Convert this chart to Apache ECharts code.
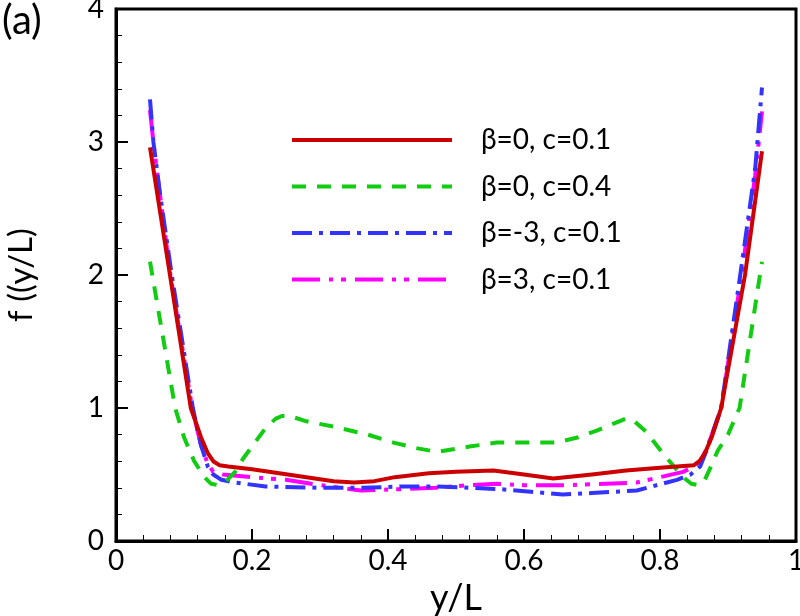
<!DOCTYPE html>
<html><head><meta charset="utf-8">
<script src="https://cdn.jsdelivr.net/npm/echarts@6/dist/echarts.min.js"></script>
<style>html,body{margin:0;padding:0;background:#fff}#c{width:800px;height:616px}</style>
</head><body><div id="c"></div>
<script>
const seriesNames = ['β=0, c=0.1', 'β=0, c=0.4', 'β=-3, c=0.1', 'β=3, c=0.1'];
const xRed = [0.05,0.11,0.125,0.135,0.143,0.152,0.165,0.2,0.24,0.28,0.32,0.35,0.38,0.41,0.46,0.5,0.555,0.6,0.643,0.7,0.75,0.8,0.85,0.858,0.866,0.876,0.89,0.925,0.95];
const yRed = [2.96,1.0,0.78,0.66,0.6,0.57,0.56,0.54,0.51,0.48,0.45,0.44,0.45,0.48,0.51,0.52,0.53,0.5,0.47,0.5,0.53,0.55,0.57,0.6,0.66,0.78,1.0,2.0,2.93];
const xGreen = [0.05,0.087,0.1,0.115,0.13,0.14,0.15,0.16,0.175,0.187,0.22,0.235,0.244,0.255,0.28,0.32,0.37,0.408,0.44,0.472,0.52,0.56,0.6,0.648,0.68,0.707,0.74,0.75,0.76,0.78,0.804,0.834,0.846,0.856,0.865,0.874,0.885,0.9,0.917,0.947,0.95];
const yGreen = [2.1,1.0,0.78,0.6,0.48,0.43,0.42,0.44,0.52,0.62,0.85,0.92,0.94,0.94,0.9,0.86,0.8,0.74,0.7,0.67,0.71,0.74,0.74,0.74,0.78,0.83,0.9,0.92,0.91,0.82,0.66,0.48,0.43,0.42,0.45,0.55,0.68,0.8,1.0,2.0,2.1];
const xBlue = [0.05,0.055,0.065,0.082,0.113,0.125,0.135,0.143,0.155,0.175,0.22,0.3,0.36,0.42,0.47,0.52,0.565,0.61,0.657,0.7,0.766,0.825,0.845,0.859,0.87,0.89,0.918,0.94,0.95];
const yBlue = [3.32,3.0,2.6,2.0,1.0,0.72,0.56,0.5,0.46,0.44,0.41,0.40,0.40,0.41,0.41,0.40,0.39,0.37,0.35,0.36,0.38,0.46,0.5,0.56,0.7,1.0,2.0,2.8,3.41];
const xMag = [0.05,0.056,0.066,0.08,0.112,0.125,0.135,0.143,0.157,0.2,0.25,0.3,0.36,0.42,0.47,0.52,0.56,0.6,0.663,0.72,0.766,0.834,0.85,0.862,0.875,0.89,0.92,0.94,0.95];
const yMag = [3.24,2.95,2.55,2.0,1.0,0.72,0.58,0.52,0.50,0.48,0.46,0.42,0.38,0.39,0.40,0.42,0.43,0.42,0.42,0.43,0.44,0.52,0.56,0.62,0.78,1.0,2.0,2.75,3.23];
const xTicks = ['0','0.2','0.4','0.6','0.8','1'];
const yTicks = ['0','1','2','3','4'];

const pair = (xs, ys) => xs.map((x, i) => [x, ys[i]]);
const FONT = 'Lato';
const colors = ['#cc0000', '#11cc11', '#3333ff', '#ff00ff'];
const dashes = ['solid', [14, 11], [20, 7, 4, 7], [28, 9, 4, 8, 5, 9]];
const datas = [pair(xRed, yRed), pair(xGreen, yGreen), pair(xBlue, yBlue), pair(xMag, yMag)];

const chart = echarts.init(document.getElementById('c'), null, {renderer: 'canvas'});
chart.setOption({
  animation: false,
  backgroundColor: '#fff',
  grid: {left: 116, right: 4, top: 9, bottom: 75, show: true, borderColor: '#000', borderWidth: 3,
    backgroundColor: 'transparent', containLabel: false, outerBoundsMode: 'none'},
  title: {text: '(a)', left: -3, top: -4, textStyle: {fontFamily: FONT, fontSize: 40, fontWeight: 'normal', color: '#000'}},
  legend: {
    orient: 'vertical', left: 285, top: 121, itemWidth: 160, itemHeight: 24, itemGap: 18.5,
    data: seriesNames,
    itemStyle: {opacity: 0},
    lineStyle: {width: 4},
    textStyle: {fontFamily: FONT, fontSize: 28, color: '#000', padding: [0, 0, 0, 24]}
  },
  xAxis: {
    type: 'value', min: 0, max: 1, interval: 0.2,
    name: 'y/L', nameLocation: 'middle', nameGap: 36,
    nameTextStyle: {fontFamily: FONT, fontSize: 36, color: '#000'},
    axisLine: {show: true, lineStyle: {color: '#000', width: 3}},
    axisTick: {show: true, inside: true, length: 12, lineStyle: {color: '#000', width: 2}},
    minorTick: {show: true, splitNumber: 5, length: 6, lineStyle: {color: '#000', width: 1}},
    splitLine: {show: false},
    axisLabel: {fontFamily: FONT, fontSize: 28, color: '#000', margin: 6,
      formatter: v => xTicks[Math.round(v / 0.2)]}
  },
  yAxis: {
    type: 'value', min: 0, max: 4, interval: 1,
    name: 'f ((y/L)', nameLocation: 'middle', nameGap: 78, nameRotate: 90,
    nameTextStyle: {fontFamily: FONT, fontSize: 33, color: '#000'},
    axisLine: {show: true, lineStyle: {color: '#000', width: 3}},
    axisTick: {show: true, inside: true, length: 12, lineStyle: {color: '#000', width: 2}},
    minorTick: {show: true, splitNumber: 5, length: 6, lineStyle: {color: '#000', width: 1}},
    splitLine: {show: false},
    axisLabel: {fontFamily: FONT, fontSize: 28, color: '#000', margin: 12,
      formatter: v => yTicks[Math.round(v)]}
  },
  series: seriesNames.map((n, i) => ({
    name: n, type: 'line', data: datas[i], symbol: 'none', showSymbol: false,
    smooth: false,
    itemStyle: {color: colors[i]},
    lineStyle: {color: colors[i], width: 4, type: dashes[i], join: 'round'},
    z: 4 - i
  }))
});
</script></body></html>
